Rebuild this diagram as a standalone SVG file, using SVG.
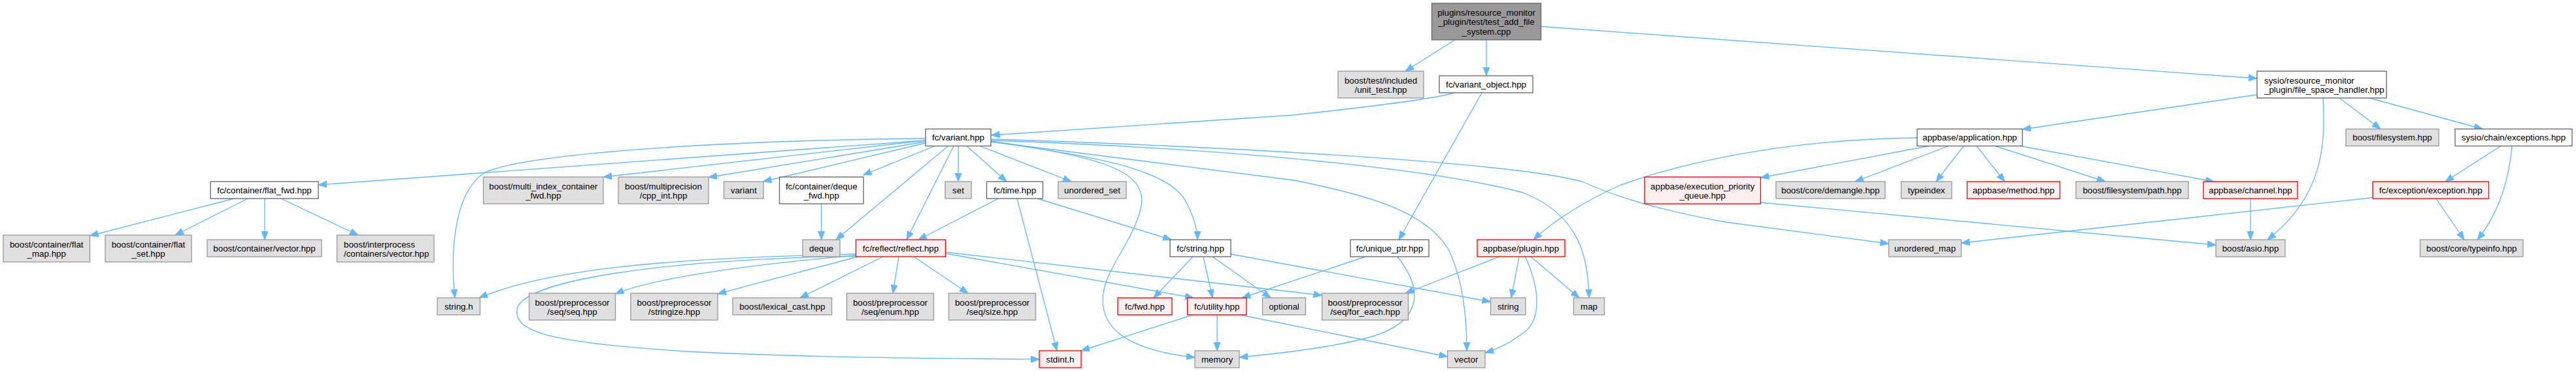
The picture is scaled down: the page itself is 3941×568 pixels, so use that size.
<svg xmlns="http://www.w3.org/2000/svg" width="3941" height="568" viewBox="0 0 3941 568">
<style>
rect{stroke-width:1.33}
.root{fill:#999999;stroke:#666666}
.w{fill:#ffffff;stroke:#666666}
.g{fill:#E0E0E0;stroke:#999999}
.r{fill:#FFF0F0;stroke:#FF0000}
text{font-family:"Liberation Sans",Arial,sans-serif;font-size:13.33px;fill:#000;text-anchor:middle}
text.l{text-anchor:start}
.e path{fill:none;stroke:#63B8FF;stroke-width:1.33;marker-end:url(#ah)}
</style>
<defs>
<marker id="ah" markerUnits="userSpaceOnUse" markerWidth="14" markerHeight="11" refX="13" refY="5" orient="auto"><path d="M0,0 L13,5 L0,10 z" fill="#63B8FF" stroke="#63B8FF" stroke-width="1"/></marker>
</defs>
<rect width="3941" height="568" fill="#ffffff"/>
<g id="edges" class="e">
<path d="M2226,61 L2150,109"/>
<path d="M2274,61 L2274,116"/>
<path d="M2357.5,40.5 L3453,120"/>
<path d="M2225,142 C2200,150 2100,163 1980,176 L1516.5,207"/>
<path d="M2267,142 L2140,367"/>
<path d="M3453,145 L3094,198"/>
<path d="M3579,150 L3642,197.5"/>
<path d="M3625,150 L3798,197.5"/>
<path d="M3554,150 C3558,220 3555,300 3469,367"/>
<path d="M3826,223.5 L3741,278"/>
<path d="M3843,223.5 C3838,280 3820,330 3790,367"/>
<path d="M3727,304 L3770,367"/>
<path d="M3630,302.5 L3000.5,372"/>
<path d="M2933,211 C2760,213 2600,240 2480,283 C2430,305 2380,335 2346,367"/>
<path d="M2951,223.5 L2693.5,272"/>
<path d="M2981,223.5 L2838,278"/>
<path d="M3004,223.5 L2962,278"/>
<path d="M3024,223.5 L3067,278"/>
<path d="M3052.5,223.5 L3221,278"/>
<path d="M3091,223.5 L3387,278"/>
<path d="M2693.5,310 L3390,375"/>
<path d="M3443,304 L3443,367"/>
<path d="M1516.5,213 C1800,222 2300,245 2420,278 C2470,300 2530,320 2640,340 L2889.5,373"/>
<path d="M1516.5,215 C1900,228 2200,260 2330,295 C2420,330 2430,400 2431,456"/>
<path d="M1516.5,217 L1980,276 C2100,300 2180,325 2215,380 C2240,430 2244,490 2244,537"/>
<path d="M1516.5,216 C1680,240 1760,260 1745,320 C1730,380 1680,420 1688,470 C1695,520 1760,540 1828,547"/>
<path d="M1516.5,217 C1680,240 1790,260 1815,310 C1830,340 1832,355 1832,367"/>
<path d="M1416,215 L487,283"/>
<path d="M1416,212 C1100,215 800,235 740,265 C690,300 690,400 696,456"/>
<path d="M1416,215 L923,271"/>
<path d="M1416,217 L1084,271.5"/>
<path d="M1416,219 L1167.5,278"/>
<path d="M1430,223.5 L1320.5,268"/>
<path d="M1450.5,223.5 L1279,367"/>
<path d="M1459,223.5 L1387,367"/>
<path d="M1466,223.5 L1466,278"/>
<path d="M1479,223.5 L1540,278"/>
<path d="M1499,223.5 L1639,278"/>
<path d="M358,304 L137.5,361"/>
<path d="M379,304 L268,360"/>
<path d="M405,304 L405,367"/>
<path d="M430,304 L548,360"/>
<path d="M1256.5,312 L1256.5,367"/>
<path d="M1527.5,304 L1405,367"/>
<path d="M1556,304 L1617,537"/>
<path d="M1587,304 L1792,367"/>
<path d="M1310,389 C1000,395 830,415 733,456"/>
<path d="M1310,391 C1150,405 1000,425 941.5,450"/>
<path d="M1312,393 C1250,410 1150,435 1098,450"/>
<path d="M1351,393 L1224,456"/>
<path d="M1375,393 L1366,449"/>
<path d="M1398,393 L1481,449"/>
<path d="M1446.5,388 L1826,456"/>
<path d="M1446.5,386 L2022.5,452"/>
<path d="M1310,392 C1000,398 810,430 792,470 C780,510 850,525 1050,538 C1250,548 1450,549 1590,550"/>
<path d="M1825,393 L1765,456"/>
<path d="M1841,393 L1855,456"/>
<path d="M1855,393 L1944,456"/>
<path d="M1883,389 L2280.5,462"/>
<path d="M2089,393 L1900,456"/>
<path d="M2138,393 C2175,440 2180,490 2100,515 C2040,532 1950,542 1896,547"/>
<path d="M1825,482 L1654,537"/>
<path d="M1862,482 L1862,537"/>
<path d="M1897,482 L2214.5,546"/>
<path d="M2294,393 L2150,449"/>
<path d="M2324,393 L2312,456"/>
<path d="M2333.5,393 C2355,440 2360,490 2330,510 C2310,525 2290,535 2272,540"/>
<path d="M2342,393 L2416,456"/>
</g>
<g id="n_root"><rect class="root" x="2190.5" y="5" width="167" height="56"/><text x="2274" y="23.7">plugins/resource_monitor</text><text x="2274" y="38.4">_plugin/test/test_add_file</text><text x="2274" y="53.1">_system.cpp</text></g>
<g id="n_unit_test"><rect class="g" x="2047" y="109" width="131" height="41"/><text x="2112.5" y="127.5">boost/test/included</text><text x="2112.5" y="142.2">/unit_test.hpp</text></g>
<g id="n_variant_object"><rect class="w" x="2202" y="116" width="143" height="26"/><text x="2273.5" y="133.7">fc/variant_object.hpp</text></g>
<g id="n_fsh"><rect class="w" x="3453" y="109" width="198" height="41"/><text class="l" x="3464" y="127.5">sysio/resource_monitor</text><text class="l" x="3464" y="142.2">_plugin/file_space_handler.hpp</text></g>
<g id="n_variant_hpp"><rect class="w" x="1416" y="197.5" width="100" height="26"/><text x="1466" y="215.2">fc/variant.hpp</text></g>
<g id="n_application"><rect class="w" x="2933" y="197.5" width="161" height="26"/><text x="3013.5" y="215.2">appbase/application.hpp</text></g>
<g id="n_filesystem"><rect class="g" x="3589" y="197.5" width="142" height="26"/><text x="3660" y="215.2">boost/filesystem.hpp</text></g>
<g id="n_exceptions"><rect class="w" x="3756" y="197.5" width="179" height="26"/><text x="3845.5" y="215.2">sysio/chain/exceptions.hpp</text></g>
<g id="n_flat_fwd"><rect class="w" x="322" y="278" width="165" height="26"/><text x="404.5" y="295.7">fc/container/flat_fwd.hpp</text></g>
<g id="n_multi_index"><rect class="g" x="739.5" y="271" width="183.5" height="41"/><text x="831.25" y="289.5">boost/multi_index_container</text><text x="831.25" y="304.2">_fwd.hpp</text></g>
<g id="n_multiprecision"><rect class="g" x="946" y="271" width="138" height="41"/><text x="1015" y="289.5">boost/multiprecision</text><text x="1015" y="304.2">/cpp_int.hpp</text></g>
<g id="n_variant"><rect class="g" x="1107.5" y="278" width="60.5" height="26"/><text x="1137.75" y="295.7">variant</text></g>
<g id="n_deque_fwd"><rect class="w" x="1192.5" y="271" width="128.5" height="41"/><text x="1256.75" y="289.5">fc/container/deque</text><text x="1256.75" y="304.2">_fwd.hpp</text></g>
<g id="n_set"><rect class="g" x="1446" y="278" width="40" height="26"/><text x="1466" y="295.7">set</text></g>
<g id="n_time"><rect class="w" x="1509.5" y="278" width="86" height="26"/><text x="1552.5" y="295.7">fc/time.hpp</text></g>
<g id="n_unordered_set"><rect class="g" x="1619" y="278" width="104" height="26"/><text x="1671" y="295.7">unordered_set</text></g>
<g id="n_exec_queue"><rect class="r" x="2516" y="271" width="177.5" height="41"/><text x="2604.75" y="289.5">appbase/execution_priority</text><text x="2604.75" y="304.2">_queue.hpp</text></g>
<g id="n_demangle"><rect class="g" x="2717" y="278" width="167" height="26"/><text x="2800.5" y="295.7">boost/core/demangle.hpp</text></g>
<g id="n_typeindex"><rect class="g" x="2908.5" y="278" width="77.5" height="26"/><text x="2947.25" y="295.7">typeindex</text></g>
<g id="n_method"><rect class="r" x="3009.5" y="278" width="142" height="26"/><text x="3080.5" y="295.7">appbase/method.hpp</text></g>
<g id="n_fs_path"><rect class="g" x="3176" y="278" width="172" height="26"/><text x="3262" y="295.7">boost/filesystem/path.hpp</text></g>
<g id="n_channel"><rect class="r" x="3371" y="278" width="144" height="26"/><text x="3443" y="295.7">appbase/channel.hpp</text></g>
<g id="n_exception"><rect class="r" x="3630" y="278" width="177.5" height="26"/><text x="3718.75" y="295.7">fc/exception/exception.hpp</text></g>
<g id="n_flat_map"><rect class="g" x="5" y="360" width="132.5" height="41"/><text x="71.25" y="378.5">boost/container/flat</text><text x="71.25" y="393.2">_map.hpp</text></g>
<g id="n_flat_set"><rect class="g" x="161" y="360" width="132" height="41"/><text x="227" y="378.5">boost/container/flat</text><text x="227" y="393.2">_set.hpp</text></g>
<g id="n_cont_vector"><rect class="g" x="317" y="367" width="175" height="26"/><text x="404.5" y="384.7">boost/container/vector.hpp</text></g>
<g id="n_interprocess"><rect class="g" x="515.5" y="360" width="148.5" height="41"/><text class="l" x="526" y="378.5">boost/interprocess</text><text class="l" x="526" y="393.2">/containers/vector.hpp</text></g>
<g id="n_deque"><rect class="g" x="1228" y="367" width="57" height="26"/><text x="1256.5" y="384.7">deque</text></g>
<g id="n_reflect"><rect class="r" x="1309.5" y="367" width="137" height="26"/><text x="1378" y="384.7">fc/reflect/reflect.hpp</text></g>
<g id="n_fc_string"><rect class="w" x="1790" y="367" width="93" height="26"/><text x="1836.5" y="384.7">fc/string.hpp</text></g>
<g id="n_unique_ptr"><rect class="w" x="2066" y="367" width="120" height="26"/><text x="2126" y="384.7">fc/unique_ptr.hpp</text></g>
<g id="n_plugin"><rect class="r" x="2260" y="367" width="134" height="26"/><text x="2327" y="384.7">appbase/plugin.hpp</text></g>
<g id="n_unordered_map"><rect class="g" x="2889.5" y="367" width="111" height="26"/><text x="2945" y="384.7">unordered_map</text></g>
<g id="n_asio"><rect class="g" x="3390" y="367" width="106" height="26"/><text x="3443" y="384.7">boost/asio.hpp</text></g>
<g id="n_typeinfo"><rect class="g" x="3702.5" y="367" width="157.5" height="26"/><text x="3781.25" y="384.7">boost/core/typeinfo.hpp</text></g>
<g id="n_string_h"><rect class="g" x="669" y="456" width="65.5" height="26"/><text x="701.75" y="473.7">string.h</text></g>
<g id="n_seq"><rect class="g" x="809.5" y="449" width="132" height="41"/><text x="875.5" y="467.5">boost/preprocessor</text><text x="875.5" y="482.2">/seq/seq.hpp</text></g>
<g id="n_stringize"><rect class="g" x="965" y="449" width="133" height="41"/><text x="1031.5" y="467.5">boost/preprocessor</text><text x="1031.5" y="482.2">/stringize.hpp</text></g>
<g id="n_lexical"><rect class="g" x="1121" y="456" width="151.5" height="26"/><text x="1196.75" y="473.7">boost/lexical_cast.hpp</text></g>
<g id="n_enum"><rect class="g" x="1295.5" y="449" width="133" height="41"/><text x="1362" y="467.5">boost/preprocessor</text><text x="1362" y="482.2">/seq/enum.hpp</text></g>
<g id="n_size"><rect class="g" x="1451.5" y="449" width="133" height="41"/><text x="1518" y="467.5">boost/preprocessor</text><text x="1518" y="482.2">/seq/size.hpp</text></g>
<g id="n_fwd"><rect class="r" x="1710" y="456" width="83" height="26"/><text x="1751.5" y="473.7">fc/fwd.hpp</text></g>
<g id="n_utility"><rect class="r" x="1816.5" y="456" width="90.5" height="26"/><text x="1861.75" y="473.7">fc/utility.hpp</text></g>
<g id="n_optional"><rect class="g" x="1931.5" y="456" width="66" height="26"/><text x="1964.5" y="473.7">optional</text></g>
<g id="n_for_each"><rect class="g" x="2022.5" y="449" width="132" height="41"/><text x="2088.5" y="467.5">boost/preprocessor</text><text x="2088.5" y="482.2">/seq/for_each.hpp</text></g>
<g id="n_string"><rect class="g" x="2280.5" y="456" width="53.5" height="26"/><text x="2307.25" y="473.7">string</text></g>
<g id="n_map"><rect class="g" x="2407.5" y="456" width="47" height="26"/><text x="2431" y="473.7">map</text></g>
<g id="n_stdint"><rect class="r" x="1590" y="537" width="64" height="26"/><text x="1622" y="554.7">stdint.h</text></g>
<g id="n_memory"><rect class="g" x="1828" y="537" width="68" height="26"/><text x="1862" y="554.7">memory</text></g>
<g id="n_vector"><rect class="g" x="2214.5" y="537" width="57.5" height="26"/><text x="2243.25" y="554.7">vector</text></g>
</svg>
